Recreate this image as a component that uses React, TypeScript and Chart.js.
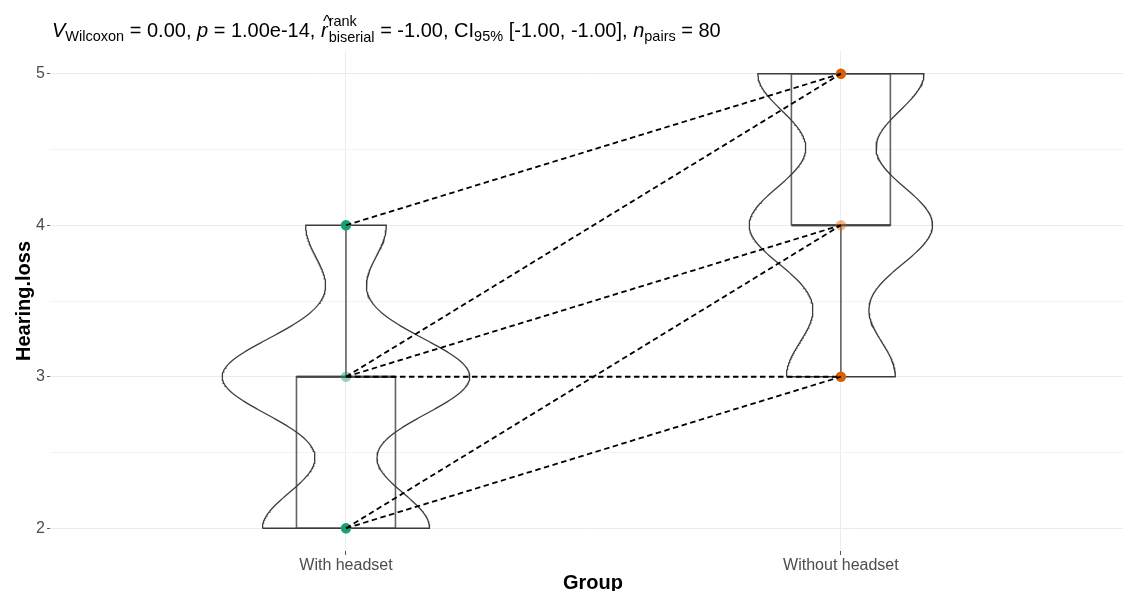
import React, { useEffect, useRef } from 'react';
import { Chart, registerables } from 'chart.js';
Chart.register(...registerables);

// ---- data ----
const groupLabels = ['With headset', 'Without headset'];
const groupColors = ['#1B9E77', '#D95F02'];
const pairFrom = [2, 2, 3, 3, 3, 4];
const pairTo = [3, 4, 3, 4, 5, 5];
const pairCount = [11, 16, 8, 16, 16, 13];
const yTickValues = [2, 2.5, 3, 3.5, 4, 4.5, 5];

const FONT = '"Liberation Sans", Arial, Helvetica, sans-serif';

// ---- stats ----
function expand(vals: number[], counts: number[]) {
  const out: number[] = [];
  vals.forEach((v, i) => { for (let k = 0; k < counts[i]; k++) out.push(v); });
  return out.sort((a, b) => a - b);
}
function q7(s: number[], p: number) {
  const h = (s.length - 1) * p;
  const lo = Math.floor(h);
  const hi = Math.min(s.length - 1, lo + 1);
  return s[lo] + (h - lo) * (s[hi] - s[lo]);
}
function sdev(s: number[]) {
  const m = s.reduce((a, b) => a + b, 0) / s.length;
  return Math.sqrt(s.reduce((a, b) => a + (b - m) * (b - m), 0) / (s.length - 1));
}
function bwNrd0(s: number[]) {
  const iqr = q7(s, 0.75) - q7(s, 0.25);
  const lo = Math.min(sdev(s), iqr / 1.34) || sdev(s) || 1;
  return 0.9 * lo * Math.pow(s.length, -0.2);
}
function density(s: number[], h: number, y: number) {
  let t = 0;
  for (const v of s) { const z = (y - v) / h; t += Math.exp(-0.5 * z * z); }
  return t / (s.length * h * Math.sqrt(2 * Math.PI));
}

const groupValues = [expand(pairFrom, pairCount), expand(pairTo, pairCount)];

const N = 300;
const dens = groupValues.map((s) => {
  const h = bwNrd0(s);
  const mn = s[0], mx = s[s.length - 1];
  const ys: number[] = [];
  const ds: number[] = [];
  for (let i = 0; i < N; i++) {
    const y = mn + (mx - mn) * i / (N - 1);
    ys.push(y); ds.push(density(s, h, y));
  }
  return { ys, ds };
});
const maxD = Math.max(...dens.map((d) => Math.max(...d.ds)));
const violinWidth = 0.5;
const boxHalf = 0.1;

function hexA(hex: string, a: number) {
  const n = parseInt(hex.slice(1), 16);
  return `rgba(${(n >> 16) & 255},${(n >> 8) & 255},${n & 255},${a})`;
}

const datasets: any[] = [];

// pair lines (top)
pairFrom.forEach((f, i) => {
  datasets.push({
    data: [{ x: 1, y: f }, { x: 2, y: pairTo[i] }],
    showLine: true, pointRadius: 0, borderColor: '#000', borderWidth: 1.8,
    borderDash: [5.5, 3.5], order: 0,
  });
});

// points, boxes, violins
groupValues.forEach((s, g) => {
  const cx = g + 1;
  const med = q7(s, 0.5);
  const uniq = Array.from(new Set(s));
  datasets.push({
    data: uniq.map((v) => ({ x: cx, y: v })),
    pointRadius: 5.2, pointBorderWidth: 0,
    pointBackgroundColor: uniq.map((v) => (v === med ? hexA(groupColors[g], 0.45) : groupColors[g])),
    order: 1,
  });
  const q1 = q7(s, 0.25), q3 = q7(s, 0.75);
  const iqr = q3 - q1;
  const wLo = Math.min(...s.filter((v) => v >= q1 - 1.5 * iqr));
  const wHi = Math.max(...s.filter((v) => v <= q3 + 1.5 * iqr));
  const boxStyle = { showLine: true, pointRadius: 0, borderColor: 'rgba(60,60,60,0.8)', borderWidth: 1.6, order: 2 };
  datasets.push({ ...boxStyle, data: [
    { x: cx - boxHalf, y: q1 }, { x: cx + boxHalf, y: q1 }, { x: cx + boxHalf, y: q3 },
    { x: cx - boxHalf, y: q3 }, { x: cx - boxHalf, y: q1 }] });
  datasets.push({ ...boxStyle, borderWidth: 2.4, data: [{ x: cx - boxHalf, y: med }, { x: cx + boxHalf, y: med }] });
  if (wHi > q3) datasets.push({ ...boxStyle, data: [{ x: cx, y: q3 }, { x: cx, y: wHi }] });
  if (wLo < q1) datasets.push({ ...boxStyle, data: [{ x: cx, y: q1 }, { x: cx, y: wLo }] });

  const d = dens[g];
  const pts: { x: number; y: number }[] = [];
  for (let i = 0; i < N; i++) pts.push({ x: cx - (d.ds[i] / maxD) * violinWidth / 2, y: d.ys[i] });
  for (let i = N - 1; i >= 0; i--) pts.push({ x: cx + (d.ds[i] / maxD) * violinWidth / 2, y: d.ys[i] });
  pts.push(pts[0]);
  datasets.push({ data: pts, showLine: true, pointRadius: 0, borderColor: 'rgba(50,50,50,0.95)', borderWidth: 1.3, order: 3 });
});

const textPlugin = {
  id: 'texts',
  afterDraw(chart: any) {
    const ctx = chart.ctx as CanvasRenderingContext2D;
    ctx.save();
    ctx.fillStyle = '#000';
    ctx.textBaseline = 'alphabetic';
    ctx.textAlign = 'left';
    const base = 37;
    let x = 52;
    const big = 20, small = 14.5;
    const seg = (t: string, size: number, style: string, dy: number) => {
      ctx.font = `${style} ${size}px ${FONT}`;
      ctx.fillText(t, x, base + dy);
      x += ctx.measureText(t).width;
    };
    seg('V', big, 'italic', 0);
    seg('Wilcoxon', small, '', 4);
    seg(' = 0.00, ', big, '', 0);
    seg('p', big, 'italic', 0);
    seg(' = 1.00e-14, ', big, '', 0);
    const rx = x;
    seg('r', big, 'italic', 0);
    ctx.font = `17px ${FONT}`;
    ctx.textAlign = 'center';
    ctx.fillText('^', rx + 6, base - 10);
    ctx.textAlign = 'left';
    ctx.font = `${small}px ${FONT}`;
    const sx = x + 1;
    ctx.fillText('rank', sx, base - 11);
    ctx.fillText('biserial', sx, base + 5);
    x = sx + Math.max(ctx.measureText('rank').width, ctx.measureText('biserial').width);
    seg(' = -1.00, CI', big, '', 0);
    seg('95%', small, '', 4);
    seg(' [-1.00, -1.00], ', big, '', 0);
    seg('n', big, 'italic', 0);
    seg('pairs', small, '', 4);
    seg(' = 80', big, '', 0);

    // axis titles
    ctx.font = `bold 20px ${FONT}`;
    ctx.textAlign = 'center';
    ctx.textBaseline = 'alphabetic';
    ctx.fillText('Group', 593, 589);
    ctx.translate(24, 301);
    ctx.rotate(-Math.PI / 2);
    ctx.textBaseline = 'middle';
    ctx.fillText('Hearing.loss', 0, 0);
    ctx.restore();
  },
};

export default function App() {
  const ref = useRef<HTMLCanvasElement>(null);
  useEffect(() => {
    const chart = new Chart(ref.current!, {
      type: 'scatter',
      data: { datasets },
      options: {
        animation: false,
        responsive: false,
        devicePixelRatio: 1,
        layout: { autoPadding: false, padding: { top: 51, left: 0, right: 0, bottom: 0 } },
        plugins: { legend: { display: false }, tooltip: { enabled: false }, title: { display: false } },
        scales: {
          x: {
            type: 'linear', min: 0.402, max: 2.57,
            afterBuildTicks: (s: any) => { s.ticks = [1, 2].map((v) => ({ value: v })); },
            afterFit: (s: any) => { s.height = 40; s.paddingLeft = 0; s.paddingRight = 0; },
            ticks: {
              callback: (v: any) => groupLabels[Number(v) - 1] ?? '',
              font: { size: 16, family: FONT }, color: '#4d4d4d', padding: 1,
              maxRotation: 0, autoSkip: false,
            },
            grid: { color: '#ebebeb', tickColor: '#555', tickLength: 4, lineWidth: 1 },
            border: { display: false },
          },
          y: {
            type: 'linear', min: 1.85, max: 5.15,
            afterBuildTicks: (s: any) => { s.ticks = yTickValues.map((v) => ({ value: v })); },
            afterFit: (s: any) => { s.width = 50; },
            ticks: {
              callback: (v: any) => (Number.isInteger(Number(v)) ? String(v) : ''),
              font: { size: 16, family: FONT }, color: '#4d4d4d', padding: 2,
            },
            grid: {
              color: (c: any) => (Number.isInteger(c.tick?.value) ? '#ebebeb' : '#f3f3f3'),
              tickColor: (c: any) => (Number.isInteger(c.tick?.value) ? '#555' : 'rgba(0,0,0,0)'),
              tickLength: 3, lineWidth: 1,
            },
            border: { display: false },
          },
        },
      } as any,
      plugins: [textPlugin],
    });
    return () => chart.destroy();
  }, []);
  return (
    <div style={{ position: 'fixed', left: 0, top: 0, width: 1123, height: 591, background: '#fff' }}>
      <canvas ref={ref} width={1123} height={591} style={{ display: 'block' }} />
    </div>
  );
}
